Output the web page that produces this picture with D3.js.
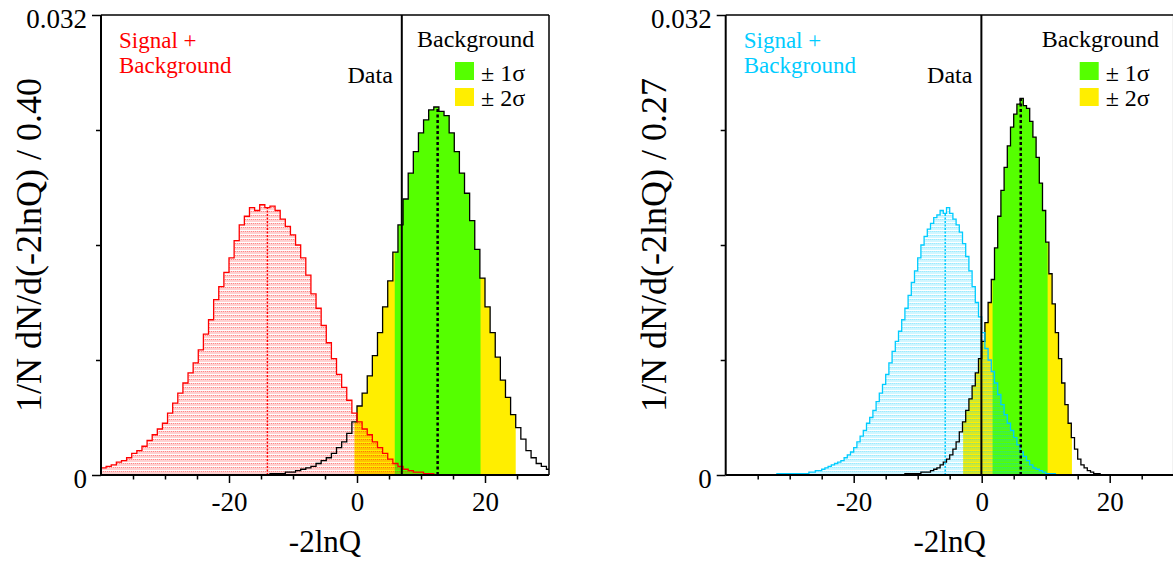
<!DOCTYPE html>
<html>
<head>
<meta charset="utf-8">
<script src="https://cdn.jsdelivr.net/npm/d3@7"></script>
<style>
  body { margin: 0; background: #fff; }
  text { font-family: "Liberation Serif", "Times New Roman", serif; }
</style>
</head>
<body>
<div id="chart"></div>
<script>
// shared axis setup
const xDomain = [-40, 30];
const yMax = 0.032;
const yUnit = 1e-4;            // histogram heights are typed in units of 1e-4
const xMajorTicks = [-20, 0, 20];
const xMinorTicks = [-35, -30, -25, -15, -10, -5, 5, 10, 15, 25];
const yMajorTicks = [0, 0.032];
const yMinorTicks = [0.008, 0.016, 0.024];

// left panel: signal+background (red) and background-only histograms
const leftBinWidth = 0.8;
const leftSBStart = -40;
const leftSB = [5, 6, 7, 9, 10, 12, 15, 17, 20, 24, 28, 32, 36, 43, 50, 57, 64, 71, 78, 87,
  98, 108, 122, 131, 141, 151, 163, 174, 180, 186, 184, 188, 186, 187, 184, 178, 173, 167, 160, 151,
  139, 126, 116, 104, 92, 81, 70, 61, 52, 43, 37, 32, 28, 23, 19, 15, 11, 8, 6, 4,
  3, 2, 2, 1, 1, 0];
const leftBkgStart = -13.6;
const leftBkg = [1, 1, 1, 2, 2, 3, 4, 5, 6, 8, 10, 12, 15, 19, 23, 29, 37, 48, 57, 69,
  83, 99, 117, 135, 155, 174, 192, 210, 225, 238, 247, 254, 256, 253, 250, 238, 225, 210, 196, 177,
  157, 137, 117, 99, 82, 66, 54, 42, 33, 25, 17, 12, 8, 6, 4];
const leftData = 7.0;
const leftSBMedian = -14.0;
const leftBkgMedian = 12.6;
const leftBand1 = [5.9, 19.3];
const leftBand2 = [-0.4, 24.8];

// right panel: signal+background (cyan) and background-only histograms
const rightBinWidth = 0.5;
const rightSBStart = -32;
const rightSB = [1, 1, 1, 1, 1, 1, 1, 1, 1, 1, 2, 2, 3, 3, 4, 5, 6, 7, 8, 9,
  10, 12, 14, 16, 19, 23, 27, 31, 36, 40, 45, 51, 57, 63, 70, 78, 86, 93, 100, 108,
  116, 125, 134, 142, 151, 160, 166, 171, 175, 179, 181, 184, 182, 186, 182, 178, 174, 169, 161, 152,
  142, 131, 120, 110, 99, 88, 80, 72, 64, 56, 49, 42, 36, 31, 26, 21, 16, 13, 10, 7,
  5, 4, 3, 2, 1, 1, 1, 0];
const rightBkgStart = -12;
const rightBkg = [1, 1, 1, 1, 1, 2, 2, 2, 3, 4, 5, 7, 9, 11, 14, 18, 23, 30, 37, 45,
  53, 62, 71, 81, 93, 106, 120, 136, 158, 180, 198, 214, 229, 242, 251, 258, 262, 257, 255, 246,
  235, 221, 203, 184, 162, 140, 119, 99, 81, 64, 49, 36, 26, 18, 11, 7, 5, 3, 2, 1,
  1, 0];
const rightData = -0.05;
const rightSBMedian = -5.7;
const rightBkgMedian = 6.1;
const rightBand1 = [1.7, 10.3];
const rightBand2 = [-2.9, 14.1];

const green = "#55ff00";
const yellow = "#ffee00";

const panels = [
  { id: "l", left: 101, color: "#ff0000", binW: leftBinWidth,
    sbStart: leftSBStart, sb: leftSB, bkgStart: leftBkgStart, bkg: leftBkg,
    data: leftData, sbMed: leftSBMedian, bkgMed: leftBkgMedian,
    band1: leftBand1, band2: leftBand2, yTitle: "1/N dN/d(-2lnQ) / 0.40", yTitleX: 41 },
  { id: "r", left: 725.7, color: "#00ccff", binW: rightBinWidth,
    sbStart: rightSBStart, sb: rightSB, bkgStart: rightBkgStart, bkg: rightBkg,
    data: rightData, sbMed: rightSBMedian, bkgMed: rightBkgMedian,
    band1: rightBand1, band2: rightBand2, yTitle: "1/N dN/d(-2lnQ) / 0.27", yTitleX: 666 }
];

const plotTop = 15, plotW = 448, plotH = 460;

const svg = d3.select("#chart").append("svg")
  .attr("width", 1173)
  .attr("height", 564);
const defs = svg.append("defs");

panels.forEach(p => drawPanel(p));

function drawPanel(p) {
  const x = d3.scaleLinear().domain(xDomain).range([0, plotW]);
  const y = d3.scaleLinear().domain([0, yMax]).range([plotH, 0]);

  // stepped outline points for a histogram
  const steps = (start, vals) => {
    const pts = [[start, 0]];
    vals.forEach((v, k) => {
      const a = start + k * p.binW;
      pts.push([a, v * yUnit], [a + p.binW, v * yUnit]);
    });
    pts.push([start + vals.length * p.binW, 0]);
    return pts;
  };
  const heightAt = (start, vals, m) => vals[Math.floor((m - start) / p.binW)] * yUnit;

  const line = d3.line().x(d => x(d[0])).y(d => y(d[1]));
  const area = d3.area().x(d => x(d[0])).y0(y(0)).y1(d => y(d[1]));

  // clip paths
  defs.append("clipPath").attr("id", "plot-" + p.id)
    .append("rect").attr("width", plotW).attr("height", plotH);
  [["b1", p.band1], ["b2", p.band2]].forEach(([k, b]) => {
    defs.append("clipPath").attr("id", k + "-" + p.id)
      .append("rect").attr("x", x(b[0])).attr("width", x(b[1]) - x(b[0]))
      .attr("y", 0).attr("height", plotH);
  });

  // dotted fill pattern for signal+background
  const pat = defs.append("pattern").attr("id", "pat-" + p.id)
    .attr("patternUnits", "userSpaceOnUse")
    .attr("width", 2).attr("height", 4);
  pat.append("rect").attr("width", 2).attr("height", 3)
    .attr("fill", p.color).attr("opacity", 0.18);
  pat.append("rect").attr("width", 1).attr("height", 1)
    .attr("fill", p.color).attr("opacity", 0.35);

  const g = svg.append("g").attr("transform", "translate(" + p.left + "," + plotTop + ")");
  const plot = g.append("g").attr("clip-path", "url(#plot-" + p.id + ")");

  const bkgPts = steps(p.bkgStart, p.bkg);
  const sbPts = steps(p.sbStart, p.sb);

  // +-2 sigma and +-1 sigma bands under the background histogram
  plot.append("path").datum(bkgPts).attr("d", area)
    .attr("fill", yellow).attr("clip-path", "url(#b2-" + p.id + ")");
  plot.append("path").datum(bkgPts).attr("d", area)
    .attr("fill", green).attr("clip-path", "url(#b1-" + p.id + ")");

  // signal+background fill
  plot.append("path").datum(sbPts).attr("d", area)
    .attr("fill", "url(#pat-" + p.id + ")");

  // outlines
  plot.append("path").datum(bkgPts).attr("d", line)
    .attr("fill", "none").attr("stroke", "#000").attr("stroke-width", 1.3);
  plot.append("path").datum(sbPts).attr("d", line)
    .attr("fill", "none").attr("stroke", p.color).attr("stroke-width", 1.3);

  // medians
  plot.append("line")
    .attr("x1", x(p.bkgMed)).attr("x2", x(p.bkgMed))
    .attr("y1", y(0)).attr("y2", y(heightAt(p.bkgStart, p.bkg, p.bkgMed)))
    .attr("stroke", "#000").attr("stroke-width", 2.5).attr("stroke-dasharray", "3,2.5");
  plot.append("line")
    .attr("x1", x(p.sbMed)).attr("x2", x(p.sbMed))
    .attr("y1", y(0)).attr("y2", y(heightAt(p.sbStart, p.sb, p.sbMed)))
    .attr("stroke", p.color).attr("stroke-width", 1.5).attr("stroke-dasharray", "2,1.5");

  // observed data
  plot.append("line")
    .attr("x1", x(p.data)).attr("x2", x(p.data))
    .attr("y1", 0).attr("y2", plotH)
    .attr("stroke", "#000").attr("stroke-width", 2);

  // frame
  g.append("line").attr("x1", 0).attr("x2", plotW).attr("y1", 0).attr("y2", 0)
    .attr("stroke", "#000").attr("stroke-width", 1.5);
  g.append("line").attr("x1", plotW).attr("x2", plotW).attr("y1", 0).attr("y2", plotH)
    .attr("stroke", "#000").attr("stroke-width", 1.5);

  // x axis
  const xMinor = g.append("g").attr("transform", "translate(0," + plotH + ")")
    .call(d3.axisBottom(x).tickValues(xMinorTicks).tickSize(4.5).tickFormat(""));
  const xMajor = g.append("g").attr("transform", "translate(0," + plotH + ")")
    .call(d3.axisBottom(x).tickValues(xMajorTicks).tickSize(8).tickPadding(8.5)
      .tickFormat(d => String(d)));
  // y axis
  const yMinor = g.append("g")
    .call(d3.axisLeft(y).tickValues(yMinorTicks).tickSize(5).tickFormat(""));
  const yMajor = g.append("g")
    .call(d3.axisLeft(y).tickValues(yMajorTicks).tickSize(9).tickPadding(5)
      .tickFormat(d => d === 0 ? "0" : "0.032"));
  [xMinor, xMajor, yMinor, yMajor].forEach(a => {
    a.select(".domain").remove();
    a.selectAll(".tick line").attr("stroke", "#000").attr("stroke-width", 1.5);
    a.selectAll("text").attr("font-size", 27).attr("fill", "#000")
      .attr("font-family", "Liberation Serif, serif");
  });
  yMajor.selectAll("text").attr("dy", "0.45em");

  g.append("line").attr("x1", 0).attr("x2", 0).attr("y1", 0).attr("y2", plotH)
    .attr("stroke", "#000").attr("stroke-width", 2);
  g.append("line").attr("x1", 0).attr("x2", plotW).attr("y1", plotH).attr("y2", plotH)
    .attr("stroke", "#000").attr("stroke-width", 2);

  // axis titles
  g.append("text")
    .attr("x", plotW / 2).attr("y", 537)
    .attr("text-anchor", "middle").attr("font-size", 31)
    .text("-2lnQ");
  svg.append("text")
    .attr("transform", "translate(" + p.yTitleX + "," + (plotTop + plotH / 2) + ") rotate(-90)")
    .attr("text-anchor", "middle").attr("font-size", 36)
    .text(p.yTitle);

  // labels and legend
  g.append("text").attr("x", 18).attr("y", 33).attr("font-size", 23)
    .attr("fill", p.color).text("Signal +");
  g.append("text").attr("x", 18).attr("y", 58).attr("font-size", 23)
    .attr("fill", p.color).text("Background");
  g.append("text").attr("x", x(p.data) - 9).attr("y", 68.3).attr("font-size", 24)
    .attr("text-anchor", "end").text("Data");
  g.append("text").attr("x", plotW - 132).attr("y", 32).attr("font-size", 24)
    .text("Background");
  g.append("rect").attr("x", 354).attr("y", 47).attr("width", 19).attr("height", 18).attr("fill", green);
  g.append("rect").attr("x", 354).attr("y", 73).attr("width", 19).attr("height", 18).attr("fill", yellow);
  g.append("text").attr("x", 380).attr("y", 65.7).attr("font-size", 24).text("\u00b1 1\u03c3");
  g.append("text").attr("x", 380).attr("y", 91).attr("font-size", 24).text("\u00b1 2\u03c3");
}
</script>
</body>
</html>
